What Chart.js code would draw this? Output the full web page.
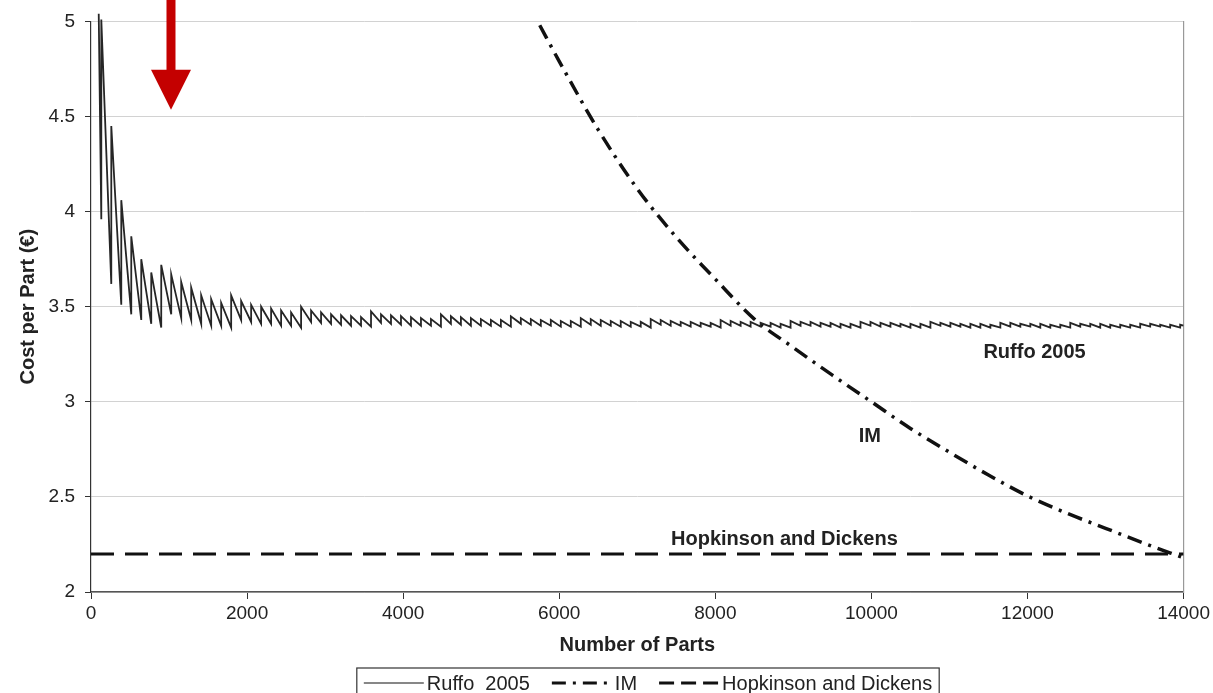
<!DOCTYPE html>
<html>
<head>
<meta charset="utf-8">
<script src="https://cdn.jsdelivr.net/npm/chart.js@4.4.1/dist/chart.umd.min.js"></script>
<style>
  html, body { margin: 0; padding: 0; background: #fff; overflow: hidden; }
  #wrap { width: 1213px; height: 693px; position: relative; }
</style>
</head>
<body>
<div id="wrap"><canvas id="chart"></canvas></div>
<script>
// --- data ---
const xTicks = [0, 2000, 4000, 6000, 8000, 10000, 12000, 14000];
const yTicks = [2, 2.5, 3, 3.5, 4, 4.5, 5];

// Ruffo 2005: sawtooth, value drops inside each build, jumps up when a new one starts
const ruffoStartN = 99, ruffoStartCost = 5.04;
const ruffoEndN = 14000, ruffoEndCost = 3.40;
const ruffoJumpN = [
    132, 260, 388, 516, 644, 772,
    900, 1028, 1156, 1284, 1412, 1540, 1668,
    1796, 1924, 2052, 2180, 2308, 2436, 2564,
    2692, 2820, 2948, 3076, 3204, 3332, 3460,
    3588, 3716, 3844, 3972, 4100, 4228, 4356,
    4484, 4612, 4740, 4868, 4996, 5124, 5252,
    5380, 5508, 5636, 5764, 5892, 6020, 6148,
    6276, 6404, 6532, 6660, 6788, 6916, 7044,
    7172, 7300, 7428, 7556, 7684, 7812, 7940,
    8068, 8196, 8324, 8452, 8580, 8708, 8836,
    8964, 9092, 9220, 9348, 9476, 9604, 9732,
    9860, 9988, 10116, 10244, 10372, 10500, 10628,
    10756, 10884, 11012, 11140, 11268, 11396, 11524,
    11652, 11780, 11908, 12036, 12164, 12292, 12420,
    12548, 12676, 12804, 12932, 13060, 13188, 13316,
    13444, 13572, 13700, 13828, 13956
];
// cost just before each jump
const ruffoTrough = [
    3.96, 3.62, 3.51, 3.46, 3.43, 3.41,
    3.39, 3.46, 3.44, 3.43, 3.41, 3.40, 3.40,
    3.39, 3.43, 3.42, 3.41, 3.41, 3.40, 3.40,
    3.39, 3.42, 3.415, 3.41, 3.405, 3.40, 3.40,
    3.395, 3.415, 3.41, 3.405, 3.40, 3.40, 3.40,
    3.395, 3.41, 3.405, 3.40, 3.40, 3.40, 3.395,
    3.395, 3.41, 3.405, 3.40, 3.40, 3.395, 3.395,
    3.395, 3.405, 3.40, 3.40, 3.395, 3.395, 3.395,
    3.39, 3.405, 3.40, 3.40, 3.395, 3.395, 3.395,
    3.39, 3.40, 3.40, 3.395, 3.395, 3.395, 3.39,
    3.39, 3.40, 3.40, 3.395, 3.395, 3.39, 3.39,
    3.39, 3.40, 3.395, 3.395, 3.395, 3.39, 3.39,
    3.39, 3.40, 3.395, 3.395, 3.39, 3.39, 3.39,
    3.39, 3.395, 3.395, 3.395, 3.39, 3.39, 3.39,
    3.39, 3.395, 3.395, 3.39, 3.39, 3.39, 3.39,
    3.39, 3.395, 3.395, 3.39, 3.39
];
// cost just after each jump
const ruffoPeak = [
    5.01, 4.45, 4.06, 3.87, 3.75, 3.68,
    3.72, 3.67, 3.63, 3.60, 3.56, 3.54, 3.52,
    3.56, 3.53, 3.51, 3.50, 3.49, 3.48, 3.47,
    3.50, 3.48, 3.47, 3.46, 3.455, 3.45, 3.445,
    3.475, 3.46, 3.455, 3.45, 3.445, 3.44, 3.435,
    3.46, 3.45, 3.445, 3.44, 3.435, 3.43, 3.43,
    3.45, 3.44, 3.435, 3.43, 3.43, 3.425, 3.425,
    3.44, 3.435, 3.43, 3.425, 3.425, 3.42, 3.42,
    3.435, 3.43, 3.425, 3.42, 3.42, 3.415, 3.415,
    3.43, 3.425, 3.42, 3.42, 3.415, 3.415, 3.41,
    3.425, 3.42, 3.42, 3.415, 3.415, 3.41, 3.41,
    3.42, 3.42, 3.415, 3.415, 3.41, 3.41, 3.41,
    3.42, 3.415, 3.415, 3.41, 3.41, 3.41, 3.405,
    3.415, 3.415, 3.41, 3.41, 3.41, 3.405, 3.405,
    3.415, 3.41, 3.41, 3.41, 3.405, 3.405, 3.405,
    3.41, 3.41, 3.405, 3.405, 3.405
];

// injection moulding
const imN    = [5750, 6000, 6500, 7000, 7500, 8000, 8500, 9000, 9500, 10000,
                10500, 11000, 11500, 12000, 12500, 13000, 13500, 14000];
const imCost = [4.98, 4.79, 4.43, 4.12, 3.865, 3.645, 3.435, 3.285, 3.14, 3.00,
                2.86, 2.735, 2.615, 2.505, 2.415, 2.335, 2.255, 2.18];

// Hopkinson and Dickens: flat
const hdN    = [0, 14000];
const hdCost = [2.2, 2.2];

// in-plot labels (data coordinates)
const curveLabels = [
    { text: "Ruffo 2005", n: 12090, cost: 3.26 },
    { text: "IM", n: 9980, cost: 2.82 },
    { text: "Hopkinson and Dickens", n: 8885, cost: 2.275 }
];
const arrowN = 1025, arrowTipCost = 4.535;

// --- build points ---
const ruffoPoints = [{ x: ruffoStartN, y: ruffoStartCost }];
ruffoJumpN.forEach((n, i) => {
    ruffoPoints.push({ x: n, y: ruffoTrough[i] }, { x: n, y: ruffoPeak[i] });
});
ruffoPoints.push({ x: ruffoEndN, y: ruffoEndCost });

const imPoints = imN.map((n, i) => ({ x: n, y: imCost[i] }));
const hdPoints = hdN.map((n, i) => ({ x: n, y: hdCost[i] }));

const FONT = "'Liberation Sans', Arial, Helvetica, sans-serif";
const INK = "#222";

// labels, arrow and the framed legend
const overlay = {
    id: "overlay",
    afterDraw(chart) {
        const { ctx, scales: { x, y } } = chart;
        ctx.save();
        ctx.fillStyle = INK;
        ctx.font = "bold 20px " + FONT;
        ctx.textAlign = "center";
        ctx.textBaseline = "middle";
        curveLabels.forEach(l => ctx.fillText(l.text, x.getPixelForValue(l.n), y.getPixelForValue(l.cost)));

        // red arrow
        const ax = x.getPixelForValue(arrowN), tip = y.getPixelForValue(arrowTipCost);
        ctx.fillStyle = "#c40000";
        ctx.fillRect(ax - 4.5, 0, 9, tip - 38);
        ctx.beginPath();
        ctx.moveTo(ax - 20, tip - 40);
        ctx.lineTo(ax + 20, tip - 40);
        ctx.lineTo(ax, tip);
        ctx.closePath();
        ctx.fill();

        // legend
        ctx.font = "20px " + FONT;
        ctx.textAlign = "left";
        const sampleW = 60, gap = 3, spacing = 22, pad = 7;
        const items = chart.data.datasets.map(ds => ({ ds, w: ctx.measureText(ds.label).width }));
        const total = items.reduce((s, it) => s + sampleW + gap + it.w, 0) + spacing * (items.length - 1);
        const left = 648 - total / 2;
        const cy = 683;
        ctx.strokeStyle = "#333";
        ctx.lineWidth = 1.2;
        ctx.strokeRect(left - pad, cy - 15, total + pad * 2, 40);
        let cx = left;
        items.forEach(({ ds, w }) => {
            ctx.beginPath();
            ctx.strokeStyle = "#111";
            ctx.lineWidth = ds.legendWidth;
            ctx.setLineDash(ds.legendDash);
            ctx.moveTo(cx, cy);
            ctx.lineTo(cx + sampleW, cy);
            ctx.stroke();
            ctx.setLineDash([]);
            ctx.fillStyle = INK;
            ctx.fillText(ds.label, cx + sampleW + gap, cy + 1);
            cx += sampleW + gap + w + spacing;
        });
        ctx.restore();
    }
};

new Chart(document.getElementById("chart"), {
    type: "line",
    data: {
        datasets: [
            { label: "Ruffo  2005", data: ruffoPoints, borderColor: "#262626", borderWidth: 1.8,
              pointRadius: 0, tension: 0, clip: { left: 0, top: 10, right: 0, bottom: 0 },
              legendWidth: 1.2, legendDash: [] },
            { label: "IM", data: imPoints, borderColor: "#111", borderWidth: 3.5, borderDash: [15, 7, 3, 7],
              pointRadius: 0, cubicInterpolationMode: "monotone", legendWidth: 3, legendDash: [14, 7, 3, 7] },
            { label: "Hopkinson and Dickens", data: hdPoints, borderColor: "#111", borderWidth: 3,
              borderDash: [23, 11], pointRadius: 0, tension: 0, legendWidth: 3, legendDash: [15, 7] }
        ]
    },
    options: {
        responsive: true,
        maintainAspectRatio: false,
        animation: false,
        layout: { padding: { top: 17, left: 0, right: 0, bottom: 30 } },
        plugins: { legend: { display: false }, tooltip: { enabled: false } },
        scales: {
            x: {
                type: "linear", min: 0, max: 14000,
                afterBuildTicks: s => { s.ticks = xTicks.map(v => ({ value: v })); },
                afterFit: s => { s.height = 71; },
                ticks: { callback: v => String(v), font: { family: FONT, size: 19 }, color: INK, padding: 3, maxRotation: 0 },
                grid: { drawOnChartArea: false, tickLength: 7, tickColor: "#333" },
                border: { color: "#555", width: 1.5 },
                title: { display: true, text: "Number of Parts", font: { family: FONT, size: 20, weight: "bold" },
                         color: INK, padding: { top: 4, bottom: 6 } }
            },
            y: {
                min: 2, max: 5,
                afterBuildTicks: s => { s.ticks = yTicks.map(v => ({ value: v })); },
                afterFit: s => { s.width = 91; },
                ticks: { callback: v => String(v), font: { family: FONT, size: 19 }, color: INK, padding: 10 },
                grid: { color: "#d2d2d2", lineWidth: 1, tickLength: 6, tickColor: "#333" },
                border: { color: "#333", width: 1.2 },
                title: { display: true, text: "Cost per Part (€)", font: { family: FONT, size: 20, weight: "bold" },
                         color: INK, padding: { top: 16, bottom: 4 } }
            },
            yRight: {
                position: "right", min: 2, max: 5,
                afterFit: s => { s.width = 29; },
                ticks: { display: false },
                grid: { drawOnChartArea: false, drawTicks: false },
                border: { color: "#999", width: 1.2 }
            }
        }
    },
    plugins: [overlay]
});
</script>
</body>
</html>
